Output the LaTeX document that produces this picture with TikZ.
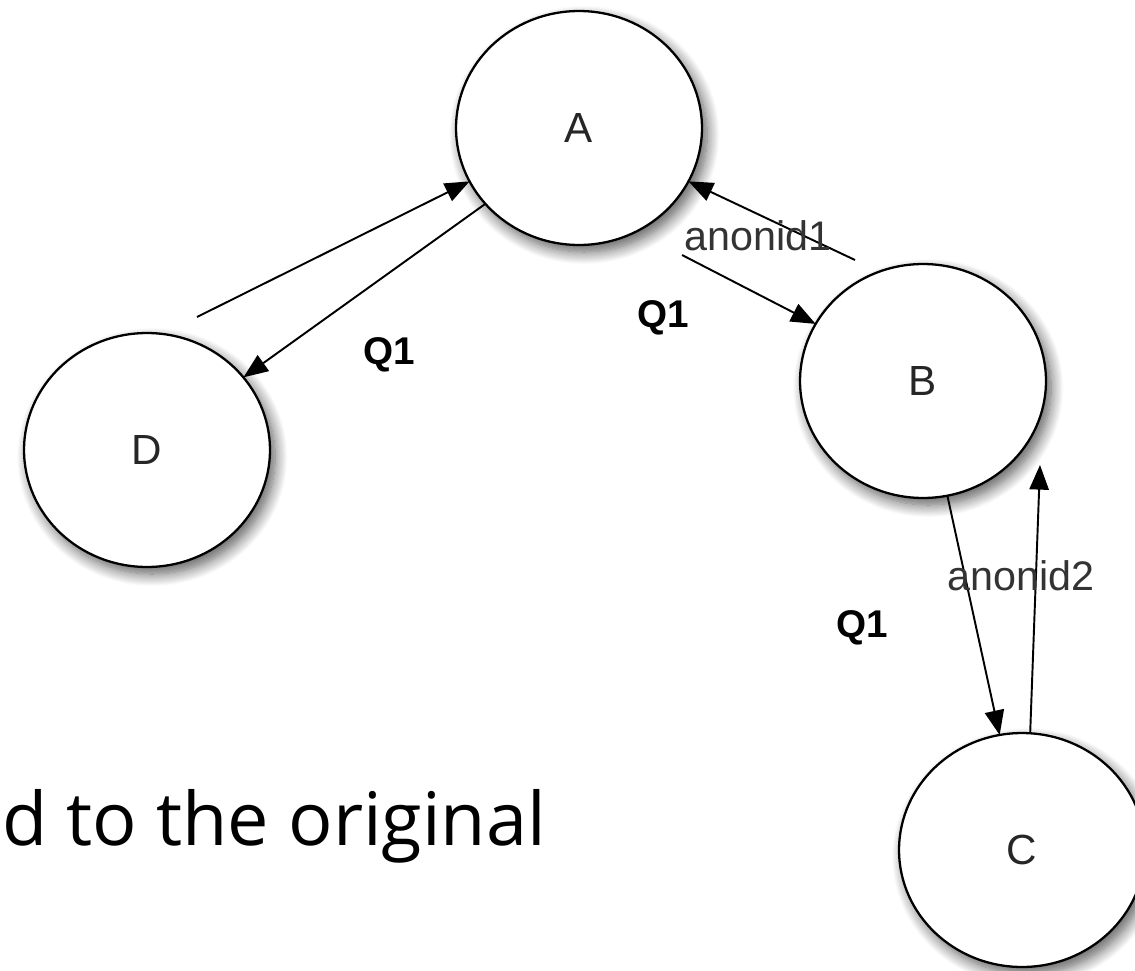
\documentclass[tikz,border=0pt]{standalone}
\usepackage{fontspec}
\setmainfont{Liberation Sans}
\newfontfamily\slidefont{Open Sans}
\usetikzlibrary{shapes.geometric,arrows.meta,shadows.blur}

\begin{document}
\begin{tikzpicture}[x=0.02cm,y=-0.02cm,
    state/.style={ellipse,draw=black,line width=1.3pt,fill=white,
      minimum width=4.92cm,minimum height=4.68cm,inner sep=0pt,outer sep=0pt,
      font=\fontsize{24}{28}\selectfont,text=black!85,
      blur shadow={shadow xshift=3pt,shadow yshift=-4pt,shadow blur radius=7pt,
        shadow blur steps=14,shadow opacity=65}},
    lab/.style={font=\fontsize{23.5}{28}\selectfont,text=black!80,inner sep=0pt},
    qlab/.style={font=\fontsize{22}{26}\selectfont\bfseries,inner sep=0pt},
    arr/.style={-{Triangle[length=14pt,width=11pt]},line width=1.1pt}]
    \useasboundingbox (0,0) rectangle (1135,970);
    \clip (0,0) rectangle (1135,970);

    \node [state] (A) at (579,128) {A};
    \node [state] (B) at (923,381) {B};
    \node [state] (D) at (147,450) {D};
    \node [state] (C) at (1022,850) {C};

    % loose ends
    \coordinate (dA) at (197,317);
    \coordinate (aB) at (682,255);
    \coordinate (bA) at (855,260);
    \coordinate (cB) at (1040,465);

    \draw[arr] (dA)--(A.206);
    \draw[arr] (A.219)--(D.37);
    \draw[arr] (aB)--(B.152);
    \draw[arr] (bA)--(A.-26);
    \draw[arr] (B.282)--(C.101);
    \draw[arr] (C.86)--(cB);

    \node [qlab] (q1) at (389,355) {Q1};
    \node [qlab] (q2) at (663,318) {Q1};
    \node [qlab] (q3) at (862,628) {Q1};
    \node [lab] (n1) at (758,236) {anonid1};
    \node [lab] (n2) at (1021,576) {anonid2};

    \node [font=\slidefont\fontsize{42}{48}\selectfont,anchor=base west,inner sep=0pt] (note) at (2,845) {d to the original};
\end{tikzpicture}
\end{document}
